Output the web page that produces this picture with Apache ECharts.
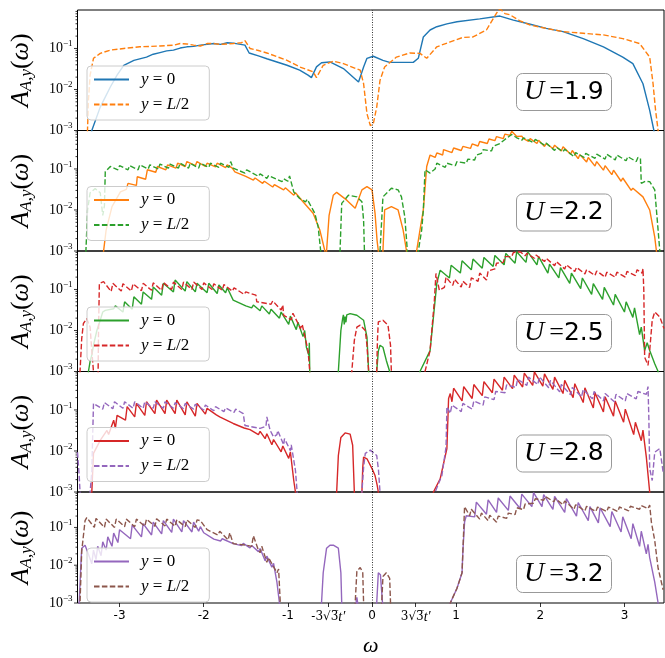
<!DOCTYPE html>
<html>
<head>
<meta charset="utf-8">
<script src="https://cdn.jsdelivr.net/npm/echarts@6.0.0/dist/echarts.min.js"></script>
<style>html,body{margin:0;background:#fff}#chart{width:665px;height:658px}</style>
</head>
<body>
<div id="chart"></div>
<script>
// values: [omega, log10 A]
var uValues = ['1.9', '2.2', '2.5', '2.8', '3.2'];
var xTicks = [-3, -2, -1, -0.5196, 0, 0.5196, 1, 2, 3];
var xTickLabels = ['-3', '-2', '-1', '{m|-3√3̅}{t|t′}', '0', '{m|3√3̅}{t|t′}', '1', '2', '3'];

var a19 = [[-3.40,-4],[-3.33,-3.0],[-3.23,-2.43],[-3.11,-1.94],[-3.03,-1.65],[-2.95,-1.41],[-2.83,-1.29],[-2.68,-1.21],[-2.60,-1.14],[-2.52,-1.10],[-2.44,-1.06],[-2.36,-1.04],[-2.28,-0.99],[-2.20,-0.96],[-2.12,-0.95],[-2.04,-0.92],[-1.96,-0.90],[-1.88,-0.88],[-1.80,-0.90],[-1.72,-0.86],[-1.65,-0.87],[-1.51,-0.92],[-1.46,-1.11],[-1.35,-1.18],[-1.25,-1.25],[-1.13,-1.33],[-1.01,-1.41],[-0.86,-1.53],[-0.76,-1.65],[-0.72,-1.71],[-0.66,-1.45],[-0.60,-1.35],[-0.50,-1.33],[-0.34,-1.49],[-0.16,-1.82],[-0.10,-1.45],[-0.06,-1.24],[0.015,-1.19],[0.13,-1.29],[0.21,-1.34],[0.49,-1.34],[0.55,-1.24],[0.61,-0.72],[0.69,-0.55],[0.77,-0.47],[0.89,-0.40],[1.01,-0.35],[1.28,-0.28],[1.52,-0.21],[1.60,-0.26],[1.68,-0.31],[1.88,-0.41],[2.07,-0.51],[2.27,-0.59],[2.51,-0.76],[2.75,-0.96],[2.98,-1.21],[3.10,-1.37],[3.22,-1.86],[3.30,-2.51],[3.35,-3.0],[3.40,-4]];
var b19 = [[-3.40,-4],[-3.38,-2.92],[-3.37,-2.27],[-3.35,-1.65],[-3.31,-1.24],[-3.23,-1.12],[-3.11,-1.04],[-2.95,-1.00],[-2.76,-0.96],[-2.52,-0.94],[-2.36,-0.92],[-2.28,-0.88],[-2.20,-0.89],[-2.12,-0.92],[-2.04,-0.94],[-1.96,-0.88],[-1.89,-0.88],[-1.80,-0.90],[-1.65,-0.88],[-1.55,-0.86],[-1.51,-0.81],[-1.45,-1.00],[-1.35,-1.05],[-1.25,-1.11],[-1.13,-1.20],[-1.01,-1.29],[-0.86,-1.45],[-0.70,-1.57],[-0.66,-1.71],[-0.58,-1.41],[-0.46,-1.31],[-0.34,-1.37],[-0.14,-1.53],[-0.10,-1.86],[-0.06,-2.59],[-0.02,-2.88],[0.015,-2.84],[0.056,-2.43],[0.095,-1.78],[0.15,-1.45],[0.29,-1.21],[0.45,-1.11],[0.57,-1.12],[0.65,-1.24],[0.77,-0.96],[0.93,-0.84],[1.08,-0.73],[1.20,-0.72],[1.36,-0.55],[1.48,-0.14],[1.52,-0.03],[1.58,-0.15],[1.64,-0.18],[1.76,-0.33],[1.88,-0.43],[2.07,-0.51],[2.27,-0.59],[2.51,-0.63],[2.75,-0.67],[2.98,-0.76],[3.18,-0.88],[3.30,-1.21],[3.34,-1.86],[3.37,-2.51],[3.40,-3.0],[3.43,-4]];

var a22 = [[-3.22,-4],[-3.19,-3.0],[-3.16,-2.49],[-3.09,-1.92],[-2.99,-1.56],[-2.92,-1.50],[-2.90,-1.35],[-2.80,-1.40],[-2.79,-1.19],[-2.69,-1.25],[-2.67,-1.02],[-2.57,-1.08],[-2.55,-0.94],[-2.45,-1.02],[-2.43,-0.90],[-2.33,-0.98],[-2.31,-0.86],[-2.22,-0.94],[-2.20,-0.82],[-2.10,-0.92],[-2.08,-0.82],[-1.98,-0.94],[-1.96,-0.86],[-1.86,-0.95],[-1.84,-0.86],[-1.74,-0.97],[-1.72,-0.90],[-1.66,-0.98],[-1.63,-1.07],[-1.50,-1.18],[-1.41,-1.27],[-1.39,-1.22],[-1.30,-1.35],[-1.28,-1.30],[-1.18,-1.44],[-1.16,-1.38],[-1.05,-1.51],[-1.03,-1.46],[-0.93,-1.64],[-0.91,-1.58],[-0.82,-1.80],[-0.80,-1.76],[-0.70,-2.08],[-0.62,-2.49],[-0.56,-3.0],[-0.555,-4],[-0.55,-4],[-0.54,-3.0],[-0.51,-2.13],[-0.46,-1.64],[-0.42,-1.57],[-0.30,-1.76],[-0.20,-1.96],[-0.12,-1.51],[-0.06,-1.43],[0.0,-1.51],[0.036,-2.08],[0.06,-2.74],[0.075,-3.0],[0.08,-4],[0.125,-4],[0.13,-3.0],[0.15,-2.0],[0.23,-1.92],[0.31,-2.0],[0.37,-2.49],[0.41,-3.0],[0.42,-4],[0.50,-4],[0.53,-3.0],[0.57,-2.49],[0.61,-2.0],[0.65,-0.94],[0.69,-0.66],[0.75,-0.72],[0.77,-0.61],[0.84,-0.66],[0.85,-0.53],[0.95,-0.60],[0.97,-0.49],[1.06,-0.55],[1.08,-0.45],[1.17,-0.50],[1.19,-0.39],[1.26,-0.44],[1.28,-0.33],[1.37,-0.38],[1.39,-0.27],[1.46,-0.31],[1.48,-0.21],[1.56,-0.26],[1.58,-0.15],[1.64,-0.18],[1.66,-0.08],[1.72,-0.21],[1.78,-0.20],[1.80,-0.26],[1.86,-0.33],[1.88,-0.26],[1.96,-0.38],[1.98,-0.30],[2.05,-0.45],[2.07,-0.38],[2.15,-0.50],[2.17,-0.42],[2.25,-0.56],[2.27,-0.46],[2.36,-0.64],[2.38,-0.55],[2.45,-0.75],[2.47,-0.65],[2.55,-0.83],[2.57,-0.72],[2.65,-0.93],[2.67,-0.82],[2.75,-1.03],[2.77,-0.92],[2.85,-1.14],[2.87,-1.03],[2.96,-1.30],[2.98,-1.22],[3.08,-1.52],[3.10,-1.47],[3.22,-1.68],[3.30,-2.0],[3.36,-2.66],[3.38,-3.0],[3.40,-4]];
var b22 = [[-3.42,-4],[-3.40,-3.0],[-3.38,-2.0],[-3.35,-1.58],[-3.29,-1.48],[-3.23,-1.58],[-3.20,-2.13],[-3.18,-1.90],[-3.17,-1.07],[-3.11,-0.94],[-3.02,-1.02],[-3.00,-0.92],[-2.90,-1.02],[-2.88,-0.92],[-2.78,-1.02],[-2.76,-0.90],[-2.66,-1.00],[-2.64,-0.90],[-2.54,-1.00],[-2.52,-0.88],[-2.42,-0.98],[-2.40,-0.88],[-2.30,-0.98],[-2.28,-0.86],[-2.18,-0.98],[-2.16,-0.86],[-2.06,-0.98],[-2.04,-0.86],[-1.94,-0.96],[-1.92,-0.86],[-1.82,-0.96],[-1.80,-0.86],[-1.70,-0.96],[-1.68,-0.82],[-1.65,-0.98],[-1.51,-1.10],[-1.49,-1.02],[-1.35,-1.18],[-1.33,-1.12],[-1.25,-1.23],[-1.23,-1.16],[-1.07,-1.31],[-1.05,-1.24],[-1.00,-1.30],[-0.98,-1.17],[-0.93,-1.56],[-0.86,-1.72],[-0.79,-1.80],[-0.77,-1.74],[-0.68,-2.08],[-0.64,-2.41],[-0.61,-3.0],[-0.60,-4],[-0.39,-4],[-0.38,-3.0],[-0.36,-1.84],[-0.28,-1.64],[-0.18,-1.68],[-0.12,-1.80],[-0.10,-2.25],[-0.09,-3.0],[-0.085,-4],[0.09,-4],[0.095,-3.0],[0.13,-1.68],[0.23,-1.47],[0.31,-1.51],[0.35,-1.68],[0.39,-2.17],[0.42,-3.0],[0.43,-4],[0.52,-4],[0.55,-3.0],[0.59,-2.49],[0.61,-2.0],[0.63,-1.02],[0.69,-1.10],[0.75,-1.00],[0.77,-0.86],[0.87,-0.96],[0.89,-0.86],[0.99,-0.92],[1.01,-0.82],[1.12,-0.86],[1.14,-0.76],[1.22,-0.78],[1.24,-0.66],[1.30,-0.62],[1.32,-0.53],[1.42,-0.56],[1.44,-0.45],[1.52,-0.38],[1.58,-0.28],[1.66,-0.16],[1.72,-0.24],[1.78,-0.30],[1.80,-0.24],[1.92,-0.36],[1.94,-0.28],[2.05,-0.42],[2.07,-0.37],[2.17,-0.55],[2.19,-0.47],[2.27,-0.58],[2.29,-0.52],[2.40,-0.70],[2.42,-0.60],[2.52,-0.72],[2.54,-0.62],[2.65,-0.74],[2.67,-0.64],[2.77,-0.76],[2.79,-0.64],[2.89,-0.78],[2.91,-0.66],[3.02,-0.80],[3.04,-0.70],[3.14,-0.82],[3.16,-0.72],[3.19,-0.74],[3.20,-1.35],[3.25,-1.30],[3.30,-1.31],[3.36,-1.51],[3.38,-2.0],[3.40,-2.49],[3.42,-3.0],[3.44,-4]];

var a25 = [[-3.40,-4],[-3.37,-3.0],[-3.35,-2.75],[-3.33,-2.6],[-3.31,-2.36],[-3.27,-2.0],[-3.23,-1.75],[-3.20,-1.55],[-3.17,-1.51],[-3.07,-1.47],[-3.05,-1.40],[-2.96,-1.55],[-2.94,-1.30],[-2.85,-1.48],[-2.83,-1.18],[-2.74,-1.36],[-2.72,-1.06],[-2.62,-1.24],[-2.60,-0.94],[-2.50,-1.14],[-2.48,-0.85],[-2.36,-1.06],[-2.34,-0.77],[-2.22,-1.04],[-2.20,-0.81],[-2.10,-1.06],[-2.08,-0.85],[-1.96,-1.08],[-1.94,-0.85],[-1.84,-1.10],[-1.82,-0.89],[-1.74,-1.08],[-1.72,-0.96],[-1.65,-1.26],[-1.50,-1.40],[-1.43,-1.45],[-1.41,-1.38],[-1.33,-1.52],[-1.31,-1.40],[-1.22,-1.60],[-1.20,-1.48],[-1.10,-1.70],[-1.08,-1.55],[-0.99,-1.85],[-0.97,-1.65],[-0.90,-1.98],[-0.88,-1.80],[-0.82,-2.15],[-0.80,-2.0],[-0.78,-2.41],[-0.75,-2.61],[-0.745,-2.3],[-0.74,-3.0],[-0.735,-4],[-0.41,-4],[-0.40,-3.0],[-0.37,-2.0],[-0.35,-1.72],[-0.34,-1.62],[-0.33,-1.85],[-0.32,-1.66],[-0.31,-1.80],[-0.30,-1.62],[-0.26,-1.59],[-0.18,-1.63],[-0.10,-1.75],[-0.06,-2.16],[-0.04,-3.0],[-0.035,-4],[0.05,-4],[0.056,-3.0],[0.075,-2.5],[0.095,-2.36],[0.13,-2.41],[0.17,-2.73],[0.21,-3.0],[0.22,-4],[0.55,-4],[0.57,-3.0],[0.69,-2.49],[0.75,-1.26],[0.77,-0.85],[0.79,-0.85],[0.81,-0.53],[0.92,-0.72],[0.94,-0.41],[1.05,-0.60],[1.07,-0.30],[1.18,-0.52],[1.20,-0.26],[1.31,-0.48],[1.33,-0.22],[1.44,-0.44],[1.46,-0.17],[1.57,-0.40],[1.59,-0.12],[1.70,-0.36],[1.72,-0.08],[1.83,-0.34],[1.85,-0.08],[1.96,-0.40],[1.98,-0.20],[2.09,-0.60],[2.11,-0.38],[2.22,-0.72],[2.24,-0.47],[2.35,-0.85],[2.37,-0.60],[2.48,-0.98],[2.50,-0.72],[2.61,-1.12],[2.63,-0.86],[2.74,-1.24],[2.76,-0.95],[2.87,-1.38],[2.89,-1.12],[3.00,-1.55],[3.02,-1.30],[3.10,-1.68],[3.12,-1.45],[3.18,-2.1],[3.20,-1.92],[3.24,-2.49],[3.27,-2.3],[3.30,-2.49],[3.36,-2.81],[3.40,-3.0],[3.41,-4]];
var b25 = [[-3.49,-4],[-3.47,-3.0],[-3.45,-2.2],[-3.43,-1.83],[-3.39,-1.71],[-3.35,-1.92],[-3.33,-2.5],[-3.31,-3.0],[-3.30,-4],[-3.26,-4],[-3.25,-2.0],[-3.24,-0.85],[-3.19,-0.81],[-3.10,-1.05],[-3.08,-0.85],[-2.98,-1.04],[-2.96,-0.86],[-2.86,-1.04],[-2.84,-0.86],[-2.74,-1.03],[-2.72,-0.85],[-2.62,-1.02],[-2.60,-0.84],[-2.50,-1.02],[-2.48,-0.83],[-2.38,-1.0],[-2.36,-0.82],[-2.26,-1.0],[-2.24,-0.82],[-2.14,-1.0],[-2.12,-0.82],[-2.02,-1.0],[-2.00,-0.84],[-1.90,-1.0],[-1.88,-0.86],[-1.78,-1.02],[-1.76,-0.88],[-1.66,-1.04],[-1.64,-0.96],[-1.52,-1.12],[-1.50,-1.06],[-1.38,-1.14],[-1.37,-1.30],[-1.20,-1.36],[-1.18,-1.28],[-1.08,-1.50],[-1.06,-1.38],[-1.05,-1.63],[-0.96,-1.74],[-0.94,-1.58],[-0.85,-1.95],[-0.83,-1.85],[-0.76,-2.49],[-0.74,-3.0],[-0.735,-4],[-0.25,-4],[-0.24,-3.0],[-0.21,-2.24],[-0.18,-1.92],[-0.14,-1.87],[-0.08,-2.0],[-0.06,-2.36],[-0.04,-3.0],[-0.035,-4],[0.05,-4],[0.056,-3.0],[0.065,-2.2],[0.075,-1.79],[0.13,-1.75],[0.19,-1.87],[0.22,-2.36],[0.23,-3.0],[0.24,-4],[0.60,-4],[0.63,-3.0],[0.69,-2.49],[0.74,-1.3],[0.76,-0.61],[0.80,-1.02],[0.86,-0.95],[0.88,-0.70],[0.96,-0.90],[0.98,-0.75],[1.06,-0.94],[1.08,-0.80],[1.16,-0.95],[1.18,-0.72],[1.26,-0.80],[1.28,-0.60],[1.36,-0.77],[1.38,-0.55],[1.46,-0.50],[1.48,-0.36],[1.56,-0.34],[1.58,-0.20],[1.66,-0.20],[1.68,-0.10],[1.76,-0.08],[1.82,-0.18],[1.84,-0.12],[1.93,-0.24],[1.95,-0.16],[2.05,-0.32],[2.07,-0.24],[2.17,-0.42],[2.19,-0.32],[2.29,-0.50],[2.31,-0.40],[2.41,-0.56],[2.43,-0.46],[2.53,-0.62],[2.55,-0.52],[2.65,-0.66],[2.67,-0.55],[2.77,-0.70],[2.79,-0.58],[2.89,-0.70],[2.91,-0.58],[3.01,-0.70],[3.03,-0.56],[3.13,-0.66],[3.15,-0.52],[3.21,-0.60],[3.22,-0.49],[3.23,-1.02],[3.24,-2.65],[3.28,-2.85],[3.30,-2.49],[3.33,-1.75],[3.36,-1.55],[3.42,-1.67],[3.47,-1.95]];

var a28 = [[-3.35,-4],[-3.33,-3.0],[-3.31,-2.06],[-3.23,-1.74],[-3.15,-1.50],[-3.13,-1.60],[-3.07,-1.25],[-3.05,-1.45],[-3.03,-1.13],[-2.93,-1.25],[-2.91,-0.92],[-2.82,-1.17],[-2.80,-0.84],[-2.70,-1.13],[-2.68,-0.80],[-2.58,-1.09],[-2.56,-0.76],[-2.46,-1.09],[-2.44,-0.76],[-2.34,-1.09],[-2.32,-0.76],[-2.22,-1.12],[-2.20,-0.80],[-2.10,-1.15],[-2.08,-0.84],[-1.98,-1.10],[-1.96,-0.96],[-1.85,-1.12],[-1.81,-1.17],[-1.70,-1.28],[-1.65,-1.33],[-1.52,-1.44],[-1.50,-1.40],[-1.45,-1.48],[-1.35,-1.60],[-1.33,-1.52],[-1.27,-1.70],[-1.25,-1.58],[-1.19,-1.85],[-1.17,-1.72],[-1.08,-2.02],[-1.06,-1.88],[-0.99,-2.18],[-0.97,-2.02],[-0.93,-2.72],[-0.91,-3.0],[-0.90,-4],[-0.43,-4],[-0.42,-3.0],[-0.40,-2.11],[-0.37,-1.67],[-0.32,-1.56],[-0.26,-1.59],[-0.23,-1.86],[-0.21,-3.0],[-0.205,-4],[-0.125,-4],[-0.12,-3.0],[-0.11,-2.4],[-0.10,-2.15],[-0.06,-2.19],[0.0,-2.43],[0.036,-2.60],[0.06,-2.82],[0.075,-3.0],[0.08,-4],[0.70,-4],[0.73,-3.0],[0.81,-2.68],[0.89,-1.94],[0.91,-0.72],[0.93,-0.60],[0.95,-0.80],[0.97,-0.47],[1.07,-0.78],[1.09,-0.43],[1.19,-0.72],[1.21,-0.38],[1.31,-0.65],[1.33,-0.31],[1.43,-0.58],[1.45,-0.25],[1.55,-0.52],[1.57,-0.20],[1.67,-0.48],[1.69,-0.15],[1.79,-0.44],[1.81,-0.10],[1.91,-0.40],[1.93,-0.07],[2.03,-0.42],[2.05,-0.12],[2.15,-0.50],[2.17,-0.20],[2.27,-0.60],[2.29,-0.28],[2.39,-0.70],[2.41,-0.36],[2.51,-0.82],[2.53,-0.46],[2.63,-0.95],[2.65,-0.58],[2.75,-1.05],[2.77,-0.68],[2.87,-1.15],[2.89,-0.78],[2.99,-1.30],[3.01,-0.98],[3.11,-1.60],[3.13,-1.30],[3.20,-1.75],[3.22,-1.49],[3.26,-2.15],[3.30,-3.0],[3.31,-4]];
var b28 = [[-3.50,-2.03],[-3.48,-2.6],[-3.47,-3.0],[-3.46,-4],[-3.36,-4],[-3.35,-3.0],[-3.33,-2.5],[-3.31,-0.84],[-3.29,-0.80],[-3.20,-0.98],[-3.18,-0.82],[-3.08,-0.97],[-3.06,-0.80],[-2.96,-0.96],[-2.94,-0.80],[-2.84,-0.96],[-2.82,-0.80],[-2.72,-0.96],[-2.70,-0.80],[-2.60,-0.96],[-2.58,-0.80],[-2.48,-0.96],[-2.46,-0.80],[-2.36,-0.96],[-2.34,-0.82],[-2.24,-0.97],[-2.22,-0.84],[-2.12,-0.98],[-2.10,-0.86],[-2.00,-1.0],[-1.98,-0.88],[-1.88,-1.02],[-1.86,-0.92],[-1.76,-1.04],[-1.74,-0.95],[-1.64,-1.06],[-1.62,-0.98],[-1.53,-1.09],[-1.51,-1.38],[-1.33,-1.45],[-1.26,-1.40],[-1.25,-1.17],[-1.21,-1.50],[-1.17,-1.66],[-1.13,-1.60],[-1.12,-1.50],[-1.05,-1.85],[-1.04,-1.70],[-0.97,-1.99],[-0.96,-1.85],[-0.91,-2.47],[-0.89,-3.0],[-0.88,-4],[-0.125,-4],[-0.12,-3.0],[-0.10,-2.4],[-0.08,-2.06],[-0.02,-1.98],[0.056,-2.11],[0.077,-2.47],[0.095,-3.0],[0.10,-4],[0.72,-4],[0.75,-3.0],[0.83,-2.6],[0.88,-1.9],[0.89,-0.92],[0.93,-1.08],[0.95,-0.88],[1.06,-1.04],[1.08,-0.84],[1.19,-0.98],[1.21,-0.78],[1.32,-0.88],[1.34,-0.68],[1.45,-0.75],[1.47,-0.55],[1.58,-0.58],[1.60,-0.39],[1.71,-0.45],[1.73,-0.25],[1.84,-0.40],[1.86,-0.20],[1.97,-0.38],[1.99,-0.19],[2.10,-0.46],[2.12,-0.28],[2.23,-0.56],[2.25,-0.38],[2.36,-0.63],[2.38,-0.45],[2.49,-0.68],[2.51,-0.50],[2.62,-0.73],[2.64,-0.55],[2.75,-0.78],[2.77,-0.60],[2.88,-0.80],[2.90,-0.62],[3.01,-0.78],[3.03,-0.60],[3.14,-0.73],[3.16,-0.55],[3.26,-0.62],[3.28,-0.43],[3.29,-1.2],[3.30,-2.43],[3.33,-2.72],[3.36,-2.03],[3.42,-1.94],[3.46,-2.52]];

var a32 = [[-3.49,-4],[-3.48,-3.0],[-3.46,-2.0],[-3.45,-1.55],[-3.41,-1.47],[-3.37,-1.71],[-3.33,-1.96],[-3.31,-1.60],[-3.28,-1.85],[-3.26,-1.50],[-3.22,-1.75],[-3.20,-1.38],[-3.16,-1.60],[-3.14,-1.25],[-3.09,-1.50],[-3.07,-1.15],[-3.02,-1.40],[-3.00,-1.06],[-2.87,-1.30],[-2.85,-0.94],[-2.74,-1.25],[-2.72,-0.90],[-2.62,-1.20],[-2.60,-0.86],[-2.50,-1.17],[-2.48,-0.82],[-2.38,-1.13],[-2.36,-0.78],[-2.26,-1.12],[-2.24,-0.82],[-2.14,-1.12],[-2.12,-0.86],[-2.06,-1.10],[-2.04,-0.98],[-2.0,-1.14],[-1.88,-1.31],[-1.80,-1.36],[-1.78,-1.30],[-1.65,-1.43],[-1.55,-1.48],[-1.53,-1.42],[-1.45,-1.54],[-1.43,-1.48],[-1.35,-1.64],[-1.33,-1.56],[-1.27,-1.88],[-1.25,-1.76],[-1.19,-2.05],[-1.17,-1.95],[-1.13,-2.45],[-1.10,-3.0],[-1.09,-4],[-0.61,-4],[-0.60,-3.0],[-0.58,-2.20],[-0.54,-1.55],[-0.50,-1.47],[-0.46,-1.47],[-0.40,-1.55],[-0.37,-2.20],[-0.36,-3.0],[-0.355,-4],[-0.20,-4],[-0.19,-3.0],[-0.18,-2.85],[-0.17,-3.0],[-0.165,-4],[0.05,-4],[0.056,-3.0],[0.075,-2.20],[0.10,-2.25],[0.125,-3.0],[0.13,-4],[0.85,-4],[0.93,-3.0],[1.01,-2.61],[1.07,-2.20],[1.08,-1.63],[1.10,-0.86],[1.12,-0.69],[1.22,-0.72],[1.24,-0.33],[1.36,-0.65],[1.38,-0.27],[1.48,-0.60],[1.50,-0.22],[1.62,-0.55],[1.64,-0.17],[1.76,-0.50],[1.78,-0.12],[1.90,-0.45],[1.92,-0.08],[2.02,-0.45],[2.04,-0.13],[2.15,-0.52],[2.17,-0.18],[2.29,-0.60],[2.31,-0.24],[2.43,-0.70],[2.45,-0.34],[2.57,-0.82],[2.59,-0.45],[2.69,-0.88],[2.71,-0.48],[2.83,-0.98],[2.85,-0.58],[2.96,-1.12],[2.98,-0.72],[3.08,-1.30],[3.10,-0.90],[3.18,-1.50],[3.20,-1.10],[3.26,-1.70],[3.28,-1.45],[3.30,-1.80],[3.36,-2.45],[3.40,-3.0],[3.41,-4]];
var b32 = [[-3.48,-4],[-3.47,-3.0],[-3.45,-1.63],[-3.41,-0.82],[-3.39,-0.74],[-3.30,-1.0],[-3.28,-0.76],[-3.18,-1.0],[-3.16,-0.78],[-3.06,-1.0],[-3.04,-0.78],[-2.94,-0.98],[-2.92,-0.78],[-2.82,-0.98],[-2.80,-0.78],[-2.70,-0.97],[-2.68,-0.78],[-2.58,-0.97],[-2.56,-0.77],[-2.46,-0.96],[-2.44,-0.78],[-2.34,-0.97],[-2.32,-0.80],[-2.22,-0.98],[-2.20,-0.80],[-2.10,-1.0],[-2.08,-0.80],[-2.04,-0.82],[-1.96,-1.06],[-1.83,-1.20],[-1.81,-1.10],[-1.71,-1.33],[-1.69,-1.14],[-1.65,-1.43],[-1.49,-1.47],[-1.43,-1.50],[-1.41,-1.22],[-1.35,-1.60],[-1.33,-1.67],[-1.31,-1.50],[-1.25,-1.92],[-1.23,-1.80],[-1.13,-2.20],[-1.11,-2.1],[-1.09,-3.0],[-1.08,-4],[-0.21,-4],[-0.20,-3.0],[-0.18,-2.16],[-0.14,-2.06],[-0.11,-2.20],[-0.10,-3.0],[-0.095,-4],[0.11,-4],[0.115,-3.0],[0.13,-2.30],[0.17,-2.20],[0.21,-2.35],[0.22,-3.0],[0.225,-4],[0.90,-4],[0.93,-3.0],[1.01,-2.61],[1.07,-2.20],[1.08,-1.63],[1.10,-0.45],[1.16,-0.69],[1.18,-0.52],[1.28,-0.78],[1.30,-0.62],[1.38,-0.82],[1.40,-0.68],[1.48,-0.86],[1.50,-0.70],[1.60,-0.76],[1.62,-0.62],[1.70,-0.66],[1.72,-0.48],[1.80,-0.53],[1.82,-0.38],[1.92,-0.36],[1.94,-0.24],[2.04,-0.28],[2.06,-0.18],[2.16,-0.32],[2.18,-0.24],[2.27,-0.40],[2.29,-0.30],[2.40,-0.52],[2.42,-0.40],[2.53,-0.56],[2.55,-0.44],[2.66,-0.58],[2.68,-0.46],[2.79,-0.58],[2.81,-0.46],[2.92,-0.58],[2.94,-0.46],[3.05,-0.56],[3.07,-0.44],[3.18,-0.52],[3.20,-0.42],[3.28,-0.50],[3.30,-0.41],[3.32,-0.86],[3.36,-1.35],[3.40,-2.08],[3.46,-2.65]];

(function () {
  var solidData = [a19, a22, a25, a28, a32];
  var dashedData = [b19, b22, b25, b28, b32];
  var solidColors = ['#1f77b4', '#ff7f0e', '#2ca02c', '#d62728', '#9467bd'];
  var dashedColors = ['#ff7f0e', '#2ca02c', '#d62728', '#9467bd', '#8c564b'];

  var serif = 'Liberation Serif';
  var sans = 'DejaVu Sans';
  var panelH = 120.5;

  // y tick marks on the log axis (major + minor)
  var yTickMarks = [];
  [-3, -2, -1].forEach(function (e) {
    for (var k = 1; k <= 9; k++) {
      var v = k * Math.pow(10, e);
      if (v < 0.866) yTickMarks.push([-3.5, v, k === 1 ? 3.5 : 2]);
    }
  });

  function toValues(arr) {
    return arr.map(function (p) { return [p[0], Math.pow(10, p[1])]; });
  }

  var grids = [], xAxes = [], yAxes = [], series = [], legends = [], titles = [];

  for (var i = 0; i < 5; i++) {
    var panelTop = 10 + i * panelH;
    var last = i === 4;
    grids.push({left: 77, right: 1, top: panelTop, height: panelH, show: true,
      borderColor: '#000', borderWidth: 1, backgroundColor: 'transparent'});

    xAxes.push({
      gridIndex: i, type: 'value', min: -3.5, max: 3.47,
      axisLine: {show: false}, splitLine: {show: false},
      axisTick: {show: last, customValues: xTicks, length: 4, lineStyle: {color: '#000', width: 0.8}},
      axisLabel: {
        show: last, customValues: xTicks, margin: 7, color: '#000',
        fontFamily: sans, fontSize: 12,
        formatter: function (v) {
          for (var j = 0; j < xTicks.length; j++) {
            if (Math.abs(xTicks[j] - v) < 1e-6) return xTickLabels[j];
          }
          return '';
        },
        rich: {
          m: {fontFamily: 'DejaVu Serif', fontSize: 12, color: '#000'},
          t: {fontFamily: serif, fontStyle: 'italic', fontSize: 14, color: '#000'}
        }
      },
      name: last ? 'ω' : '', nameLocation: 'middle', nameGap: 32,
      nameTextStyle: {fontFamily: serif, fontStyle: 'italic', fontSize: 22, color: '#000'}
    });

    yAxes.push({
      gridIndex: i, type: 'log', logBase: 10, min: 0.001, max: 0.866,
      axisLine: {show: false}, axisTick: {show: false}, splitLine: {show: false},
      axisLabel: {
        margin: 5, showMaxLabel: false, color: '#000',
        formatter: function (v) {
          var e = Math.log(v) / Math.LN10;
          var r = Math.round(e);
          if (Math.abs(e - r) > 1e-6) return '';
          return '{b|10}{s|−' + (-r) + '}';
        },
        rich: {
          b: {fontFamily: serif, fontSize: 14, color: '#000'},
          s: {fontFamily: serif, fontSize: 9, color: '#000', padding: [0, 0, 9, 0]}
        }
      },
      name: '{a|A}{s|A,y}{p|(}{a|ω}{p|)}', nameLocation: 'middle', nameRotate: 90, nameGap: 42,
      nameTextStyle: {
        rich: {
          a: {fontFamily: serif, fontStyle: 'italic', fontSize: 26, color: '#000'},
          s: {fontFamily: serif, fontStyle: 'italic', fontSize: 17, color: '#000', padding: [12, 0, 0, 0]},
          p: {fontFamily: serif, fontSize: 26, color: '#000'}
        }
      }
    });

    series.push({
      name: 'a' + i, type: 'line', xAxisIndex: i, yAxisIndex: i, symbol: 'none',
      data: toValues(solidData[i]), color: solidColors[i],
      lineStyle: {width: 1.4, color: solidColors[i]},
      markLine: {
        silent: true, symbol: 'none', label: {show: false},
        lineStyle: {color: '#000', type: [1, 1.5], width: 0.8},
        data: [{xAxis: 0}]
      }
    });
    series.push({
      name: 'b' + i, type: 'line', xAxisIndex: i, yAxisIndex: i, symbol: 'none',
      data: toValues(dashedData[i]), color: dashedColors[i],
      lineStyle: {width: 1.4, color: dashedColors[i], type: [5.5, 2.4]}
    });
    series.push({
      type: 'custom', xAxisIndex: i, yAxisIndex: i, silent: true,
      data: yTickMarks,
      renderItem: function (params, api) {
        var p = api.coord([api.value(0), api.value(1)]);
        var len = api.value(2);
        return {type: 'line', shape: {x1: p[0] - len, y1: p[1], x2: p[0], y2: p[1]},
          style: {stroke: '#000', lineWidth: 0.8}};
      }
    });

    legends.push({
      left: 87, top: panelTop + 56, orient: 'vertical', selectedMode: false,
      data: ['a' + i, 'b' + i],
      itemWidth: 35, itemHeight: 14, itemGap: 8,
      padding: [5, 20, 7, 6],
      itemStyle: {opacity: 0},
      backgroundColor: 'rgba(255,255,255,0.8)', borderColor: '#cccccc', borderWidth: 1, borderRadius: 4,
      formatter: function (n) { return n.charAt(0) === 'a' ? '{i|y} = 0' : '{i|y} = {i|L}/2'; },
      textStyle: {
        fontFamily: serif, fontSize: 17, color: '#000', padding: [0, 0, 0, 7],
        rich: {i: {fontFamily: serif, fontStyle: 'italic', fontSize: 17, color: '#000'}}
      }
    });

    titles.push({
      left: 516, top: panelTop + 63,
      text: '{u|U} {e|=}{n|' + uValues[i] + '}',
      padding: [4, 8, 4, 8], borderColor: '#999', borderWidth: 1, borderRadius: 6, backgroundColor: '#fff',
      textStyle: {
        lineHeight: 30, fontWeight: 'normal',
        rich: {
          u: {fontFamily: serif, fontStyle: 'italic', fontWeight: 'normal', fontSize: 28, color: '#000'},
          e: {fontFamily: serif, fontWeight: 'normal', fontSize: 26, color: '#000'},
          n: {fontFamily: sans, fontWeight: 'normal', fontSize: 25, color: '#000'}
        }
      }
    });
  }

  var chart = echarts.init(document.getElementById('chart'));
  chart.setOption({
    animation: false,
    backgroundColor: '#fff',
    title: titles,
    legend: legends,
    grid: grids,
    xAxis: xAxes,
    yAxis: yAxes,
    series: series
  });
})();
</script>
</body>
</html>
